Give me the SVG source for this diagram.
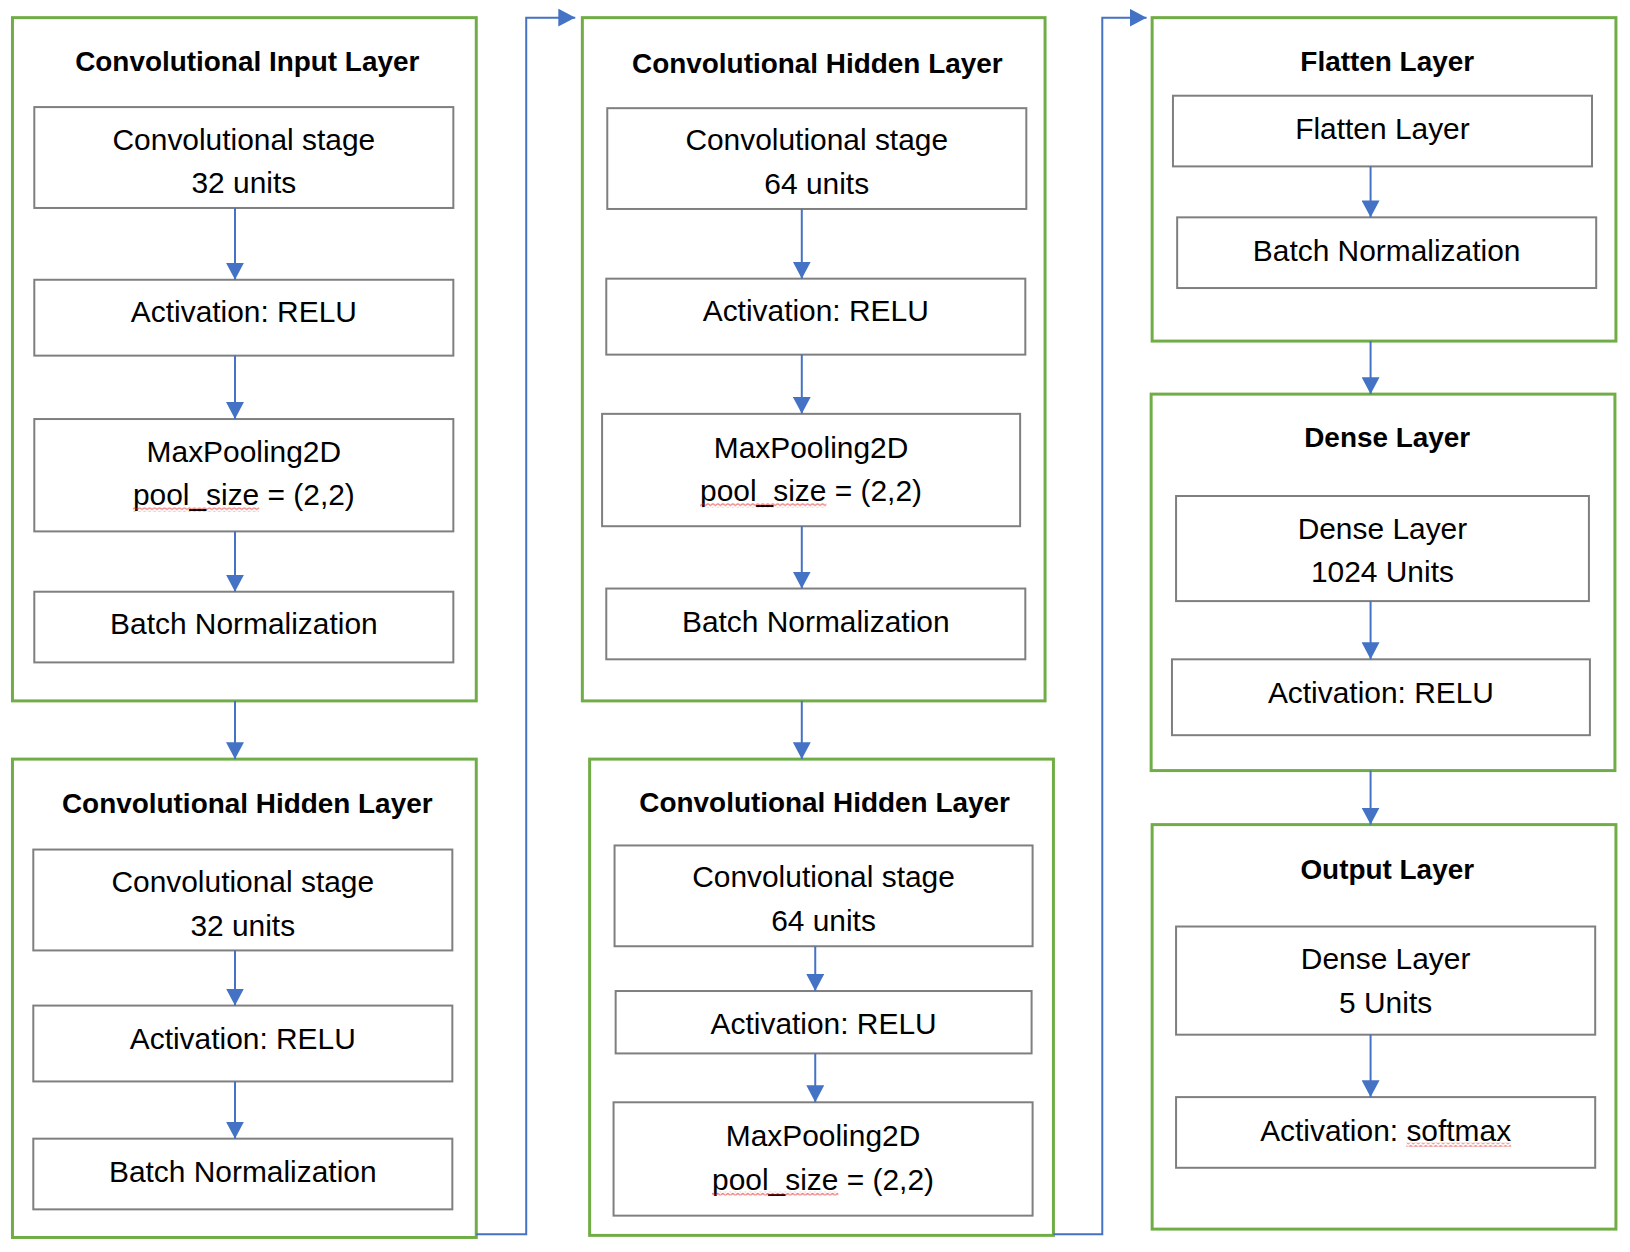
<svg xmlns="http://www.w3.org/2000/svg" width="1630" height="1252" viewBox="0 0 1630 1252">
<style>
.outer{fill:#ffffff;stroke:#70ad47;stroke-width:3}
.inner{fill:#ffffff;stroke:#7f7f7f;stroke-width:2}
.title{font-family:"Liberation Sans",Arial,sans-serif;font-weight:bold;font-size:28px;text-anchor:middle;fill:#000}
.lbl{font-family:"Liberation Sans",Arial,sans-serif;font-size:30px;text-anchor:middle;fill:#000}
.conn{fill:none;stroke:#4472c4;stroke-width:2;marker-end:url(#arr)}
.sq{fill:url(#squig)}
</style>
<defs>
<marker id="arr" markerUnits="userSpaceOnUse" markerWidth="17" markerHeight="18" refX="17" refY="9" orient="auto" viewBox="0 0 17 18">
<path d="M0,0 L17,9 L0,18 z" fill="#4472c4"/>
</marker>
<pattern id="squig" patternUnits="userSpaceOnUse" width="5" height="4">
<path d="M0,1 L2.5,3 L5,1" fill="none" stroke="#e0201e" stroke-width="1"/>
</pattern>
</defs>
<rect width="1630" height="1252" fill="#ffffff"/>
<g transform="scale(0.997)">

<g id="conv-input-layer">
<rect class="outer" x="12.5" y="17.7" width="465.2" height="685.3"/>
<text class="title" x="248" y="71">Convolutional Input Layer</text>
<g id="a-conv"><rect class="inner" x="34.4" y="107.4" width="420.3" height="101.2"/>
<text class="lbl" x="244.6" y="150.3">Convolutional stage</text>
<text class="lbl" x="244.6" y="194">32 units</text></g>
<g id="a-act"><rect class="inner" x="34.4" y="280.6" width="420.3" height="76.1"/>
<text class="lbl" x="244.6" y="323.4">Activation: RELU</text></g>
<g id="a-pool"><rect class="inner" x="34.4" y="420.3" width="420.3" height="112.7"/>
<text class="lbl" x="244.6" y="463.2">MaxPooling2D</text>
<text class="lbl" x="244.6" y="507">pool_size = (2,2)</text>
<rect class="sq" x="133.3" y="509" width="126.7" height="4"/></g>
<g id="a-bn"><rect class="inner" x="34.4" y="593.5" width="420.3" height="70.9"/>
<text class="lbl" x="244.6" y="636.3">Batch Normalization</text></g>
</g>

<g id="conv-hidden-layer-1">
<rect class="outer" x="12.5" y="761.4" width="465.2" height="479.8"/>
<text class="title" x="248" y="815.7">Convolutional Hidden Layer</text>
<g id="b-conv"><rect class="inner" x="33.4" y="852.1" width="420.3" height="101.2"/>
<text class="lbl" x="243.5" y="895">Convolutional stage</text>
<text class="lbl" x="243.5" y="938.8">32 units</text></g>
<g id="b-act"><rect class="inner" x="33.4" y="1008.6" width="420.3" height="76.1"/>
<text class="lbl" x="243.5" y="1052.5">Activation: RELU</text></g>
<g id="b-bn"><rect class="inner" x="33.4" y="1142.1" width="420.3" height="70.9"/>
<text class="lbl" x="243.5" y="1186">Batch Normalization</text></g>
</g>

<g id="conv-hidden-layer-2">
<rect class="outer" x="584.1" y="17.7" width="464.1" height="685.3"/>
<text class="title" x="819.8" y="73.1">Convolutional Hidden Layer</text>
<g id="c-conv"><rect class="inner" x="609.1" y="108.5" width="420.3" height="101.1"/>
<text class="lbl" x="819.2" y="150.3">Convolutional stage</text>
<text class="lbl" x="819.2" y="194.1">64 units</text></g>
<g id="c-act"><rect class="inner" x="608.1" y="279.5" width="420.3" height="76.2"/>
<text class="lbl" x="818.2" y="322.4">Activation: RELU</text></g>
<g id="c-pool"><rect class="inner" x="603.9" y="415.1" width="419.3" height="112.7"/>
<text class="lbl" x="813.5" y="459">MaxPooling2D</text>
<text class="lbl" x="813.5" y="502.8">pool_size = (2,2)</text>
<rect class="sq" x="702.2" y="504.8" width="126.7" height="4"/></g>
<g id="c-bn"><rect class="inner" x="608.1" y="590.3" width="420.3" height="71"/>
<text class="lbl" x="818.2" y="634.2">Batch Normalization</text></g>
</g>

<g id="conv-hidden-layer-3">
<rect class="outer" x="591.4" y="761.4" width="465.2" height="477.7"/>
<text class="title" x="827.1" y="814.7">Convolutional Hidden Layer</text>
<g id="d-conv"><rect class="inner" x="616.4" y="848" width="419.3" height="101.1"/>
<text class="lbl" x="826" y="889.7">Convolutional stage</text>
<text class="lbl" x="826" y="933.5">64 units</text></g>
<g id="d-act"><rect class="inner" x="617.5" y="994" width="417.2" height="62.6"/>
<text class="lbl" x="826.1" y="1036.8">Activation: RELU</text></g>
<g id="d-pool"><rect class="inner" x="615.4" y="1105.6" width="420.3" height="113.7"/>
<text class="lbl" x="825.5" y="1149.5">MaxPooling2D</text>
<text class="lbl" x="825.5" y="1193.3">pool_size = (2,2)</text>
<rect class="sq" x="714.2" y="1195.3" width="126.7" height="4"/></g>
</g>

<g id="flatten-layer">
<rect class="outer" x="1155.6" y="17.7" width="465.2" height="324.4"/>
<text class="title" x="1391.4" y="71">Flatten Layer</text>
<g id="e-flat"><rect class="inner" x="1176.5" y="96" width="420.3" height="70.9"/>
<text class="lbl" x="1386.6" y="139.8">Flatten Layer</text></g>
<g id="e-bn"><rect class="inner" x="1180.7" y="218" width="420.3" height="70.9"/>
<text class="lbl" x="1390.8" y="261.9">Batch Normalization</text></g>
</g>

<g id="dense-layer">
<rect class="outer" x="1154.6" y="395.3" width="465.2" height="377.6"/>
<text class="title" x="1391.4" y="448.6">Dense Layer</text>
<g id="f-dense"><rect class="inner" x="1179.6" y="497.5" width="414.1" height="105.4"/>
<text class="lbl" x="1386.6" y="540.3">Dense Layer</text>
<text class="lbl" x="1386.6" y="584.2">1024 Units</text></g>
<g id="f-act"><rect class="inner" x="1175.5" y="661.3" width="419.2" height="76.1"/>
<text class="lbl" x="1385.1" y="705.1">Activation: RELU</text></g>
</g>

<g id="output-layer">
<rect class="outer" x="1155.6" y="827.1" width="465.2" height="405.7"/>
<text class="title" x="1391.4" y="881.4">Output Layer</text>
<g id="g-dense"><rect class="inner" x="1179.6" y="929.3" width="420.4" height="108.5"/>
<text class="lbl" x="1389.8" y="972.1">Dense Layer</text>
<text class="lbl" x="1389.8" y="1016">5 Units</text></g>
<g id="g-act"><rect class="inner" x="1179.6" y="1100.4" width="420.4" height="70.9"/>
<text class="lbl" x="1389.8" y="1144.2">Activation: softmax</text>
<rect class="sq" x="1410.6" y="1146.2" width="105" height="4"/></g>
</g>

<g id="connectors">
<path class="conn" d="M235.7,208.6 V280.6"/>
<path class="conn" d="M235.7,356.7 V420.3"/>
<path class="conn" d="M235.7,533 V593.5"/>
<path class="conn" d="M235.7,703 V761.4"/>
<path class="conn" d="M235.7,953.3 V1008.6"/>
<path class="conn" d="M235.7,1084.7 V1142.1"/>
<path class="conn" d="M477.7,1238 H527.8 V17.7 H577"/>
<path class="conn" d="M804.2,209.6 V279.5"/>
<path class="conn" d="M804.2,355.7 V415.1"/>
<path class="conn" d="M804.2,527.8 V590.3"/>
<path class="conn" d="M804.2,703 V761.4"/>
<path class="conn" d="M817.7,949.1 V994"/>
<path class="conn" d="M817.7,1056.6 V1105.6"/>
<path class="conn" d="M1056.6,1238 H1105.6 V17.7 H1150"/>
<path class="conn" d="M1374.7,166.9 V218"/>
<path class="conn" d="M1374.7,342.1 V395.3"/>
<path class="conn" d="M1374.7,602.9 V661.3"/>
<path class="conn" d="M1374.7,772.9 V827.1"/>
<path class="conn" d="M1374.7,1037.8 V1100.4"/>
</g>
</g>
</svg>
